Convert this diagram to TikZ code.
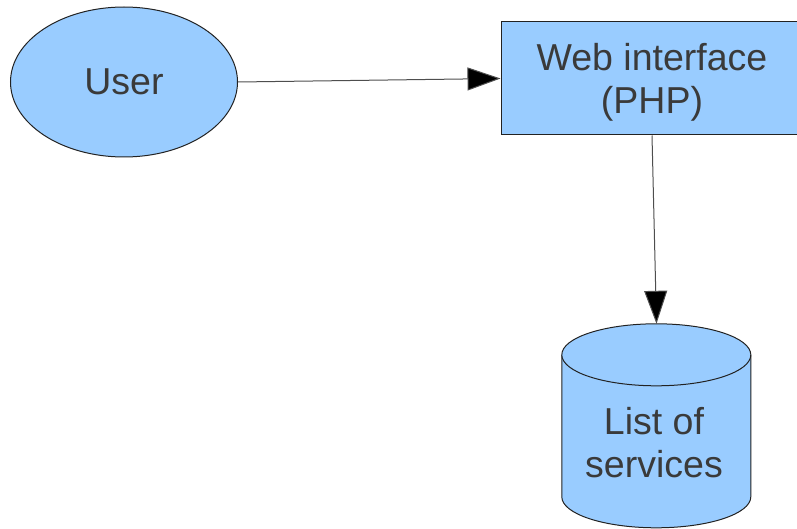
\documentclass[tikz,border=0pt]{standalone}
\usepackage{fontspec}
\setmainfont{Liberation Sans}
\usetikzlibrary{arrows.meta,shapes.geometric}
\definecolor{shapefill}{HTML}{99CCFF}
\definecolor{txt}{HTML}{3A3A3A}
\definecolor{edge}{HTML}{222222}
\tikzset{
  lbl/.style={text=txt,font=\fontsize{37.5}{43}\selectfont,align=center,inner sep=0pt},
  shp/.style={draw=edge,fill=shapefill,line width=1pt},
  conn/.style={draw=edge!80!white,line width=1pt,-{Triangle[length=33pt,width=23pt,fill=black]}}
}
\begin{document}
\begin{tikzpicture}[x=1pt,y=-1pt]
\useasboundingbox (0,0) rectangle (797,529);
\node[ellipse,shp,lbl,minimum width=227pt,minimum height=150pt] (user) at (124,82) {User};
\node[rectangle,shp,minimum width=302pt,minimum height=113pt] (web) at (652,78.5) {};
\node[lbl] (webtext) at (652,82) {Web interface\\(PHP)};
\node[draw=none,minimum width=189pt,minimum height=204pt,inner sep=0pt] (db) at (656.5,426) {};
\path[shp] (db.north west) ++(0,31) -- ++(0,142) arc[start angle=180,end angle=360,x radius=94.5,y radius=-31] -- ++(0,-142) arc[start angle=0,end angle=180,x radius=94.5,y radius=-31] -- cycle;
\path[shp] (db.north west) ++(0,31) arc[start angle=180,end angle=360,x radius=94.5,y radius=-31];
\node[lbl] (dbtext) at (654,443) {List of\\services};
\draw[conn] (user.east) -- (web.west);
\draw[conn] (web.south) -- (db.north);
\end{tikzpicture}
\end{document}
